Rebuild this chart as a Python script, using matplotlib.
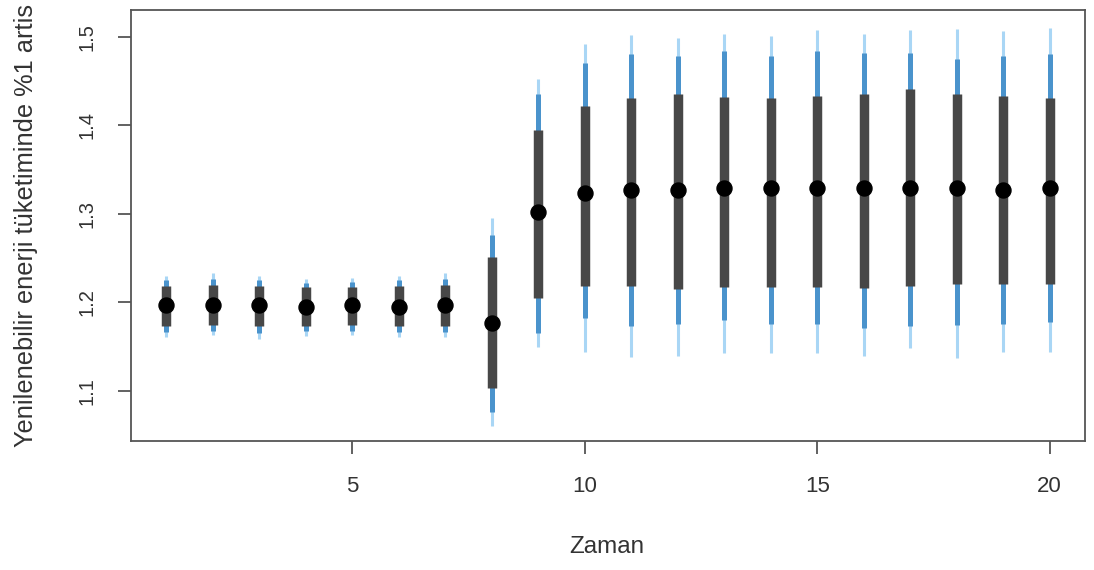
import matplotlib
matplotlib.use("Agg")
import matplotlib.pyplot as plt
import numpy as np

plt.rcParams['font.family'] = ['Liberation Sans', 'DejaVu Sans']

# Time index and posterior summaries of the response to a 1% increase
zaman = np.arange(1, 21)
median = [1.197, 1.197, 1.197, 1.195, 1.197, 1.195, 1.197, 1.177, 1.302, 1.324,
          1.327, 1.327, 1.329, 1.329, 1.329, 1.329, 1.329, 1.329, 1.327, 1.329]
outer_lo = [1.161, 1.163, 1.159, 1.162, 1.163, 1.161, 1.161, 1.061, 1.150, 1.144,
            1.138, 1.140, 1.143, 1.143, 1.143, 1.139, 1.149, 1.137, 1.144, 1.144]
outer_hi = [1.230, 1.233, 1.230, 1.227, 1.228, 1.230, 1.233, 1.295, 1.453, 1.492,
            1.502, 1.499, 1.503, 1.501, 1.508, 1.503, 1.508, 1.509, 1.507, 1.510]
mid_lo = [1.167, 1.168, 1.166, 1.168, 1.168, 1.167, 1.167, 1.076, 1.165, 1.183,
          1.174, 1.176, 1.180, 1.176, 1.176, 1.171, 1.173, 1.175, 1.176, 1.178]
mid_hi = [1.225, 1.226, 1.225, 1.222, 1.223, 1.225, 1.226, 1.276, 1.436, 1.471,
          1.481, 1.478, 1.484, 1.478, 1.484, 1.482, 1.482, 1.475, 1.478, 1.481]
inner_lo = [1.174, 1.175, 1.174, 1.174, 1.175, 1.174, 1.174, 1.103, 1.205, 1.219,
            1.219, 1.215, 1.217, 1.217, 1.217, 1.216, 1.219, 1.221, 1.221, 1.221]
inner_hi = [1.219, 1.220, 1.219, 1.217, 1.218, 1.219, 1.220, 1.251, 1.395, 1.422,
            1.431, 1.436, 1.432, 1.431, 1.433, 1.436, 1.441, 1.436, 1.433, 1.431]

xticks = [5, 10, 15, 20]
yticks = [1.1, 1.2, 1.3, 1.4, 1.5]

fig = plt.figure(figsize=(10.94, 5.70), dpi=100)
ax = fig.add_axes([131 / 1094, 1 - 441 / 570, (1085 - 131) / 1094, (441 - 10) / 570])

ax.vlines(zaman, outer_lo, outer_hi, color='#a9d6f5', linewidth=2.2, zorder=2)
ax.vlines(zaman, mid_lo, mid_hi, color='#4a93cc', linewidth=3.6, zorder=3)
ax.vlines(zaman, inner_lo, inner_hi, color='#474747', linewidth=6.8, zorder=4)
ax.plot(zaman, median, 'o', color='black', markersize=10.8, zorder=5)

ax.set_xlim(0.24, 20.76)
ax.set_ylim(1.0435, 1.5305)
ax.set_xticks(xticks)
ax.set_xticklabels([str(t) for t in xticks])
ax.set_yticks(yticks)
ax.set_yticklabels([f"{t:.1f}" for t in yticks], rotation=90, va='center')

for s in ax.spines.values():
    s.set_color('#555555')
    s.set_linewidth(1.3)
ax.tick_params(direction='out', length=9.5, width=1.3, color='#555555',
               labelcolor='#333333')
ax.tick_params(axis='x', labelsize=16, pad=16)
ax.tick_params(axis='y', labelsize=14.5, pad=15)

ax.set_xlabel('Zaman', fontsize=17.5, color='#333333', va='center')
ax.xaxis.set_label_coords(0.4985, (441 - 547) / 431)
ax.set_ylabel('Yenilenebilir enerji tüketiminde %1 artis', fontsize=18.3,
              color='#333333', va='center')
ax.yaxis.set_label_coords((26 - 131) / 954, 0.5)

fig.savefig('out.png', dpi=100)
